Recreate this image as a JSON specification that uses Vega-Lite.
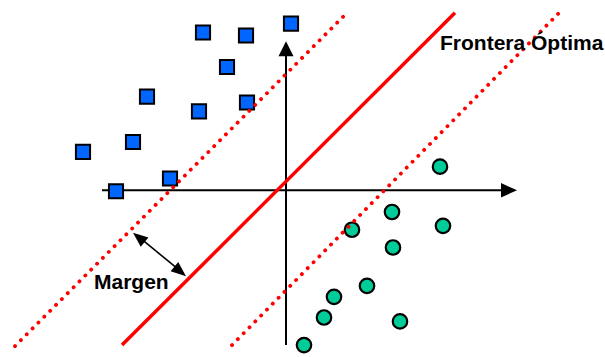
{
  "$schema": "https://vega.github.io/schema/vega-lite/v6.json",
  "width": 605,
  "height": 357,
  "autosize": {"type": "fit", "contains": "padding"},
  "padding": 0,
  "background": "white",
  "config": {"view": {"stroke": null}},
  "datasets": {
    "pts": [
      {"cls": "A", "x": -83, "y": 160},
      {"cls": "A", "x": -40, "y": 157},
      {"cls": "A", "x": 5, "y": 169},
      {"cls": "A", "x": -59, "y": 125},
      {"cls": "A", "x": -139, "y": 95},
      {"cls": "A", "x": -39, "y": 89},
      {"cls": "A", "x": -87, "y": 80},
      {"cls": "A", "x": -153, "y": 49},
      {"cls": "A", "x": -203, "y": 39},
      {"cls": "A", "x": -116, "y": 12},
      {"cls": "A", "x": -170, "y": -1},
      {"cls": "B", "x": 154, "y": 24},
      {"cls": "B", "x": 106, "y": -22},
      {"cls": "B", "x": 157, "y": -36},
      {"cls": "B", "x": 66, "y": -40},
      {"cls": "B", "x": 107, "y": -58},
      {"cls": "B", "x": 81, "y": -97},
      {"cls": "B", "x": 48, "y": -108},
      {"cls": "B", "x": 38, "y": -129},
      {"cls": "B", "x": 114, "y": -133},
      {"cls": "B", "x": 18, "y": -157}
    ],
    "segs": [
      {"seg": "axisH", "x": -184, "y": 0},
      {"seg": "axisH", "x": 219, "y": 0},
      {"seg": "axisV", "x": 0, "y": -157},
      {"seg": "axisV", "x": 0, "y": 143},
      {"seg": "margin", "x": -150, "y": -45},
      {"seg": "margin", "x": -103, "y": -84},
      {"seg": "boundary", "x": -164, "y": -157},
      {"seg": "boundary", "x": 169, "y": 180},
      {"seg": "upper", "x": -271, "y": -158},
      {"seg": "upper", "x": 61, "y": 180},
      {"seg": "lower", "x": -54, "y": -157},
      {"seg": "lower", "x": 275, "y": 182}
    ],
    "heads": [
      {"head": "right", "x": 223, "y": 0},
      {"head": "up", "x": 0, "y": 143.5},
      {"head": "m1", "x": -147.2, "y": -47.8},
      {"head": "m2", "x": -105.8, "y": -82.2}
    ],
    "labels": [
      {"label": "Frontera Óptima", "x": 154, "y": 142},
      {"label": "Margen", "x": -192, "y": -100}
    ]
  },
  "encoding": {
    "x": {"field": "x", "type": "quantitative", "scale": {"domain": [-286, 319], "nice": false, "zero": false}, "axis": null},
    "y": {"field": "y", "type": "quantitative", "scale": {"domain": [-164, 193], "nice": false, "zero": false}, "axis": null}
  },
  "layer": [
    {
      "data": {"name": "segs"},
      "transform": [{"filter": "datum.seg === 'axisH' || datum.seg === 'axisV'"}],
      "mark": {"type": "line", "color": "black", "strokeWidth": 2, "clip": false},
      "encoding": {"detail": {"field": "seg"}, "order": {"field": "x"}}
    },
    {
      "data": {"name": "segs"},
      "transform": [{"filter": "datum.seg === 'margin'"}],
      "mark": {"type": "line", "color": "black", "strokeWidth": 1.6},
      "encoding": {"order": {"field": "x"}}
    },
    {
      "data": {"name": "pts"},
      "transform": [{"filter": "datum.cls === 'A'"}],
      "mark": {"type": "point", "shape": "square", "filled": true, "size": 200, "fill": "#0066ff", "stroke": "black", "strokeWidth": 2, "opacity": 1}
    },
    {
      "data": {"name": "pts"},
      "transform": [{"filter": "datum.cls === 'B'"}],
      "mark": {"type": "point", "shape": "circle", "filled": true, "size": 210, "fill": "#00cc99", "stroke": "black", "strokeWidth": 2.2, "opacity": 1}
    },
    {
      "data": {"name": "segs"},
      "transform": [{"filter": "datum.seg === 'boundary'"}],
      "mark": {"type": "line", "color": "#ff0000", "strokeWidth": 3.5},
      "encoding": {"order": {"field": "x"}}
    },
    {
      "data": {"name": "segs"},
      "transform": [{"filter": "datum.seg === 'upper' || datum.seg === 'lower'"}],
      "mark": {"type": "line", "color": "#ff0000", "strokeWidth": 3.8, "strokeDash": [0.1, 8.2], "strokeCap": "round"},
      "encoding": {"detail": {"field": "seg"}, "order": {"field": "x"}}
    },
    {
      "data": {"name": "heads"},
      "transform": [{"filter": "datum.head === 'right'"}],
      "mark": {"type": "point", "shape": "M1,0L-1,-0.9L-1,0.9Z", "filled": true, "size": 256, "color": "black", "opacity": 1}
    },
    {
      "data": {"name": "heads"},
      "transform": [{"filter": "datum.head === 'up'"}],
      "mark": {"type": "point", "shape": "M0,-1L-1,1L1,1Z", "filled": true, "size": 225, "color": "black", "opacity": 1}
    },
    {
      "data": {"name": "heads"},
      "transform": [{"filter": "datum.head === 'm2'"}],
      "mark": {"type": "point", "shape": "M1,0L-1,-0.8L-1,0.8Z", "filled": true, "size": 225, "color": "black", "opacity": 1, "angle": 39.7}
    },
    {
      "data": {"name": "heads"},
      "transform": [{"filter": "datum.head === 'm1'"}],
      "mark": {"type": "point", "shape": "M1,0L-1,-0.8L-1,0.8Z", "filled": true, "size": 225, "color": "black", "opacity": 1, "angle": 219.7}
    },
    {
      "data": {"name": "labels"},
      "mark": {"type": "text", "align": "left", "baseline": "alphabetic", "font": "Liberation Sans", "fontWeight": "bold", "fontSize": 21, "color": "black"},
      "encoding": {"text": {"field": "label"}}
    }
  ]
}
